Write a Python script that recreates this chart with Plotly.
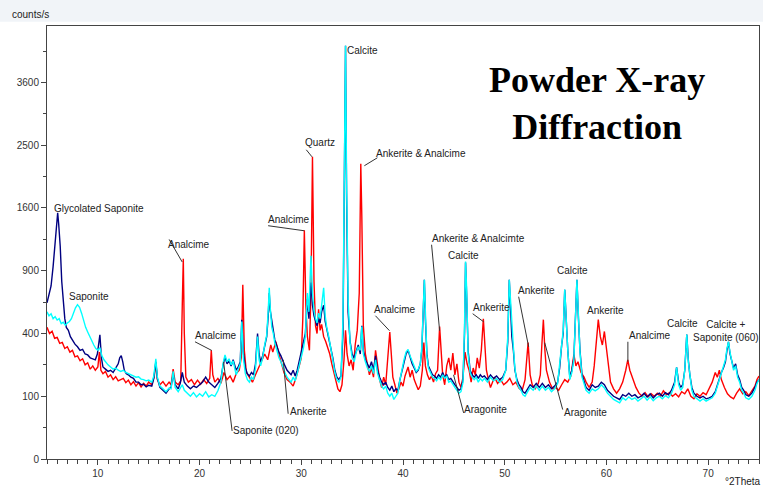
import numpy as np
import plotly.graph_objects as go

# ---------------- data (degrees 2-theta, counts/s) ----------------
red_points = [
    (5.0,440),(5.25,400),(5.5,415),(5.75,370),(6.0,375),(6.25,340),(6.5,345),(6.75,310),(7.0,320),(7.25,290),
    (7.5,300),(7.75,265),(8.0,270),(8.25,245),(8.5,255),(8.75,225),(9.0,235),(9.25,205),(9.5,220),(9.75,200),
    (10.0,215),(10.15,290),(10.3,200),(10.5,185),(10.75,195),(11.0,170),(11.25,180),(11.5,160),(11.75,172),(12.0,155),
    (12.5,165),(12.75,148),(13.0,158),(13.25,140),(13.5,152),(13.75,135),(14.0,148),(14.25,132),(14.5,145),(14.75,135),
    (15.0,150),(15.3,140),(15.55,175),(15.7,235),(15.85,160),(16.1,140),(16.4,152),(16.7,135),(17.0,150),(17.2,140),
    (17.4,205),(17.6,150),(17.9,140),(18.15,155),(18.3,600),(18.4,1017),(18.5,400),(18.65,170),(18.9,150),(19.2,160),
    (19.5,140),(19.8,158),(20.1,142),(20.4,160),(20.7,145),(21.0,165),(21.15,300),(21.3,180),(21.5,150),(21.8,165),
    (22.1,145),(22.4,190),(22.7,160),(23.0,175),(23.3,150),(23.6,185),(23.9,200),(24.1,260),(24.25,771),(24.4,300),
    (24.6,190),(24.9,170),(25.2,150),(25.5,180),(25.8,210),(26.1,240),(26.4,280),(26.7,250),(27.0,330),(27.2,290),
    (27.5,350),(27.8,280),(28.0,240),(28.3,190),(28.6,160),(28.9,150),(29.2,135),(29.5,170),(29.8,220),(30.0,260),
    (30.15,500),(30.3,1330),(30.45,600),(30.6,380),(30.8,300),(30.95,700),(31.1,2320),(31.25,800),(31.4,450),(31.55,400),
    (31.7,570),(31.85,420),(32.0,460),(32.2,380),(32.4,350),(32.6,310),(32.8,280),(33.0,230),(33.2,190),(33.4,150),
    (33.6,125),(33.8,115),(34.0,140),(34.2,250),(34.35,420),(34.5,280),(34.7,220),(34.9,250),(35.1,200),(35.3,330),
    (35.5,420),(35.7,700),(35.85,2212),(35.95,1500),(36.1,450),(36.3,280),(36.5,230),(36.7,180),(36.9,210),(37.1,170),
    (37.3,300),(37.5,220),(37.7,160),(37.9,130),(38.1,170),(38.3,140),(38.5,250),(38.7,410),(38.85,280),(39.0,170),
    (39.2,140),(39.4,110),(39.6,125),(39.8,150),(40.0,135),(40.2,175),(40.5,215),(40.7,170),(40.9,200),(41.1,160),
    (41.3,140),(41.5,122),(41.7,135),(41.9,200),(42.05,344),(42.2,220),(42.4,180),(42.6,160),(42.8,175),(43.0,150),
    (43.2,185),(43.4,200),(43.6,445),(43.75,260),(43.9,180),(44.1,140),(44.3,220),(44.5,260),(44.7,200),(44.9,285),
    (45.1,180),(45.3,230),(45.5,150),(45.7,130),(45.9,170),(46.1,290),(46.3,230),(46.5,200),(46.7,150),(46.9,210),
    (47.1,180),(47.3,260),(47.5,210),(47.7,300),(47.9,500),(48.05,330),(48.2,200),(48.4,160),(48.6,130),(48.8,150),
    (49.0,170),(49.3,145),(49.6,160),(49.9,140),(50.2,150),(50.5,165),(50.8,140),(51.1,150),(51.4,128),(51.7,118),
    (52.0,160),(52.3,344),(52.5,180),(52.7,140),(53.0,125),(53.3,145),(53.5,180),(53.65,330),(53.8,493),(53.95,300),
    (54.1,200),(54.4,150),(54.7,125),(55.0,130),(55.3,120),(55.6,140),(55.9,160),(56.2,150),(56.5,175),(56.8,277),
    (57.0,220),(57.2,240),(57.5,190),(57.8,170),(58.0,150),(58.3,130),(58.6,150),(58.8,220),(59.0,350),(59.2,493),
    (59.4,380),(59.6,330),(59.8,413),(60.0,300),(60.2,200),(60.4,150),(60.7,125),(61.0,110),(61.3,125),(61.6,150),
    (61.9,200),(62.1,250),(62.3,200),(62.6,160),(62.9,130),(63.2,110),(63.5,100),(63.8,112),(64.1,98),(64.4,108),
    (64.7,100),(65.0,110),(65.3,100),(65.6,118),(65.9,105),(66.2,112),(66.5,100),(66.8,108),(67.1,98),(67.4,115),
    (67.7,108),(68.0,125),(68.3,100),(68.6,92),(68.9,108),(69.2,100),(69.5,112),(69.8,105),(70.1,125),(70.4,150),
    (70.7,190),(70.9,170),(71.1,200),(71.3,160),(71.6,130),(71.9,108),(72.2,98),(72.5,92),(72.8,110),(73.1,125),
    (73.4,108),(73.7,115),(74.0,102),(74.3,118),(74.6,135),(74.8,160),(75.0,175),
]

navy_points = [
    (5.0,620),(5.2,680),(5.4,760),(5.6,940),(5.8,1200),(5.95,1450),(6.05,1540),(6.15,1400),(6.3,1150),(6.45,800),
    (6.6,600),(6.75,500),(6.9,440),(7.1,420),(7.3,380),(7.5,360),(7.75,335),(8.0,320),(8.25,300),(8.5,305),
    (8.75,280),(9.0,275),(9.25,260),(9.5,255),(9.75,250),(9.95,280),(10.1,330),(10.2,392),(10.35,260),(10.5,215),
    (10.75,205),(11.0,195),(11.25,200),(11.5,190),(11.75,210),(12.0,230),(12.15,260),(12.3,271),(12.45,240),(12.6,200),
    (12.8,185),(13.0,180),(13.25,170),(13.5,165),(13.75,150),(14.0,150),(14.25,140),(14.5,142),(14.75,132),(15.0,138),
    (15.3,135),(15.5,165),(15.7,240),(15.85,165),(16.1,130),(16.4,120),(16.7,110),(17.0,125),(17.2,130),(17.4,185),
    (17.6,140),(17.9,125),(18.1,145),(18.3,190),(18.5,150),(18.8,135),(19.1,125),(19.4,135),(19.7,130),(20.0,140),
    (20.3,150),(20.6,170),(20.9,150),(21.2,140),(21.5,130),(21.8,145),(22.1,165),(22.3,220),(22.5,265),(22.7,230),
    (22.9,245),(23.1,220),(23.3,250),(23.6,200),(23.8,215),(24.0,240),(24.15,493),(24.3,290),(24.5,210),(24.7,185),
    (24.9,175),(25.1,190),(25.3,180),(25.5,230),(25.7,400),(25.85,280),(26.0,240),(26.2,270),(26.4,320),(26.6,380),
    (26.75,520),(26.85,700),(26.95,560),(27.1,470),(27.25,420),(27.4,360),(27.6,320),(27.8,290),(28.0,270),(28.2,240),
    (28.4,220),(28.6,200),(28.8,190),(29.0,180),(29.2,200),(29.4,175),(29.6,200),(29.8,240),(30.0,290),(30.2,330),
    (30.4,400),(30.6,650),(30.75,500),(30.95,790),(31.1,600),(31.25,520),(31.4,480),(31.55,450),(31.7,500),(31.85,470),
    (32.0,550),(32.2,600),(32.35,480),(32.5,430),(32.7,380),(32.9,330),(33.1,260),(33.3,200),(33.5,170),(33.7,160),
    (33.9,175),(34.1,400),(34.25,1800),(34.35,4335),(34.45,1800),(34.6,550),(34.8,350),(35.0,280),(35.2,260),(35.4,300),
    (35.6,330),(35.8,280),(35.95,450),(36.1,300),(36.3,250),(36.5,230),(36.7,210),(36.9,240),(37.1,200),(37.3,270),
    (37.5,200),(37.7,170),(37.9,150),(38.1,140),(38.3,150),(38.5,130),(38.7,120),(38.9,135),(39.1,115),(39.3,125),
    (39.5,120),(39.7,160),(39.9,200),(40.1,240),(40.3,280),(40.5,300),(40.7,260),(40.9,230),(41.1,210),(41.3,190),
    (41.5,200),(41.7,230),(41.85,300),(42.0,600),(42.1,815),(42.2,500),(42.35,280),(42.5,220),(42.7,200),(42.9,180),
    (43.1,175),(43.3,165),(43.5,180),(43.7,170),(43.9,190),(44.1,170),(44.3,180),(44.5,160),(44.7,165),(44.9,150),
    (45.1,140),(45.3,130),(45.5,120),(45.7,125),(45.9,160),(46.05,400),(46.15,980),(46.25,700),(46.4,300),(46.6,200),
    (46.8,180),(47.0,170),(47.2,180),(47.4,165),(47.6,180),(47.8,170),(48.0,175),(48.3,160),(48.6,180),(48.9,165),
    (49.2,175),(49.5,160),(49.8,170),(50.1,200),(50.3,350),(50.45,815),(50.55,600),(50.7,380),(50.85,300),(51.0,200),
    (51.2,160),(51.4,140),(51.6,130),(51.8,115),(52.0,110),(52.2,120),(52.5,140),(52.8,130),(53.1,145),(53.4,130),
    (53.7,145),(54.0,130),(54.3,140),(54.6,125),(54.9,135),(55.2,150),(55.4,210),(55.6,330),(55.75,400),(55.9,728),
    (56.05,450),(56.2,300),(56.4,170),(56.6,200),(56.8,260),(56.95,450),(57.1,816),(57.25,500),(57.4,300),(57.6,180),
    (57.8,150),(58.0,130),(58.3,120),(58.6,140),(58.9,130),(59.2,135),(59.5,150),(59.8,140),(60.1,120),(60.4,110),
    (60.7,100),(61.0,95),(61.3,90),(61.6,105),(61.9,100),(62.2,110),(62.5,100),(62.8,105),(63.1,95),(63.4,100),
    (63.7,110),(64.0,98),(64.3,108),(64.6,95),(64.9,105),(65.2,110),(65.5,100),(65.8,112),(66.1,105),(66.4,120),
    (66.7,150),(66.9,213),(67.1,150),(67.3,130),(67.5,140),(67.7,200),(67.9,393),(68.05,250),(68.2,180),(68.4,130),
    (68.6,110),(68.9,100),(69.2,95),(69.5,100),(69.8,92),(70.1,95),(70.4,100),(70.7,115),(70.9,140),(71.1,160),
    (71.3,190),(71.5,210),(71.7,240),(71.85,300),(72.0,349),(72.15,280),(72.3,250),(72.5,210),(72.7,230),(72.9,180),
    (73.1,160),(73.3,130),(73.5,120),(73.7,105),(74.0,100),(74.3,110),(74.6,130),(74.8,150),(75.0,160),
]

cyan_points = [
    (5.0,550),(5.2,520),(5.4,535),(5.6,500),(5.8,515),(6.0,490),(6.2,500),(6.4,465),(6.6,475),(6.8,455),
    (7.0,470),(7.2,480),(7.4,500),(7.6,540),(7.8,580),(8.0,605),(8.2,585),(8.4,540),(8.6,480),(8.8,440),
    (9.0,410),(9.2,380),(9.4,350),(9.6,330),(9.8,310),(10.0,300),(10.2,315),(10.4,270),(10.6,250),(10.8,235),
    (11.0,225),(11.25,215),(11.5,205),(11.75,210),(12.0,200),(12.25,195),(12.5,200),(12.75,190),(13.0,185),(13.25,180),
    (13.5,178),(13.75,170),(14.0,172),(14.25,162),(14.5,160),(14.75,155),(15.0,158),(15.3,150),(15.5,175),(15.7,255),
    (15.85,170),(16.1,135),(16.4,125),(16.7,115),(17.0,128),(17.2,125),(17.4,195),(17.6,130),(17.9,115),(18.1,125),
    (18.3,140),(18.5,120),(18.8,110),(19.1,100),(19.4,112),(19.7,98),(20.0,108),(20.3,100),(20.6,115),(20.9,98),
    (21.2,105),(21.5,100),(21.8,118),(22.1,150),(22.3,230),(22.5,275),(22.7,240),(22.9,255),(23.1,225),(23.3,245),
    (23.6,180),(23.8,200),(24.0,230),(24.15,480),(24.3,260),(24.5,185),(24.7,160),(24.9,150),(25.1,170),(25.3,160),
    (25.5,210),(25.7,380),(25.85,250),(26.0,220),(26.2,260),(26.4,330),(26.6,390),(26.75,560),(26.85,745),(26.95,580),
    (27.1,440),(27.25,400),(27.4,340),(27.6,300),(27.8,260),(28.0,240),(28.2,210),(28.4,190),(28.6,170),(28.8,160),
    (29.0,150),(29.2,170),(29.4,155),(29.6,185),(29.8,220),(30.0,260),(30.2,310),(30.4,380),(30.6,700),(30.75,550),
    (30.95,1050),(31.1,700),(31.25,560),(31.4,500),(31.55,470),(31.7,540),(31.85,500),(32.0,600),(32.2,745),(32.35,520),
    (32.5,440),(32.7,380),(32.9,320),(33.1,250),(33.3,190),(33.5,160),(33.7,150),(33.9,170),(34.1,500),(34.25,2200),
    (34.35,4335),(34.45,2000),(34.6,650),(34.8,340),(35.0,260),(35.2,240),(35.4,290),(35.6,320),(35.8,300),(35.95,445),
    (36.1,280),(36.3,240),(36.5,210),(36.7,195),(36.9,220),(37.1,185),(37.3,250),(37.5,185),(37.7,160),(37.9,135),
    (38.1,125),(38.3,135),(38.5,110),(38.7,100),(38.9,110),(39.1,90),(39.3,100),(39.5,110),(39.7,160),(39.9,210),
    (40.1,250),(40.3,290),(40.5,305),(40.7,270),(40.9,240),(41.1,215),(41.3,195),(41.5,205),(41.7,230),(41.85,320),
    (42.0,650),(42.1,815),(42.2,550),(42.35,270),(42.5,210),(42.7,190),(42.9,170),(43.1,165),(43.3,155),(43.5,170),
    (43.7,160),(43.9,180),(44.1,165),(44.3,175),(44.5,150),(44.7,155),(44.9,140),(45.1,130),(45.3,120),(45.5,110),
    (45.7,115),(45.9,150),(46.05,450),(46.15,990),(46.25,750),(46.4,280),(46.6,190),(46.8,170),(47.0,160),(47.2,170),
    (47.4,150),(47.6,165),(47.8,155),(48.0,165),(48.3,150),(48.6,170),(48.9,155),(49.2,165),(49.5,150),(49.8,160),
    (50.1,200),(50.3,380),(50.45,815),(50.55,650),(50.7,420),(50.85,320),(51.0,210),(51.2,150),(51.4,130),(51.6,120),
    (51.8,105),(52.0,100),(52.2,112),(52.5,130),(52.8,120),(53.1,135),(53.4,120),(53.7,135),(54.0,120),(54.3,130),
    (54.6,115),(54.9,125),(55.2,145),(55.4,220),(55.6,340),(55.75,420),(55.9,730),(56.05,460),(56.2,300),(56.4,160),
    (56.6,190),(56.8,250),(56.95,480),(57.1,816),(57.25,520),(57.4,290),(57.6,170),(57.8,140),(58.0,120),(58.3,110),
    (58.6,125),(58.9,118),(59.2,125),(59.5,140),(59.8,128),(60.1,110),(60.4,100),(60.7,90),(61.0,85),(61.3,80),
    (61.6,95),(61.9,88),(62.2,98),(62.5,90),(62.8,95),(63.1,85),(63.4,92),(63.7,100),(64.0,88),(64.3,98),
    (64.6,86),(64.9,95),(65.2,100),(65.5,92),(65.8,102),(66.1,95),(66.4,110),(66.7,140),(66.9,213),(67.1,140),
    (67.3,120),(67.5,130),(67.7,200),(67.9,393),(68.05,240),(68.2,170),(68.4,120),(68.6,100),(68.9,92),(69.2,85),
    (69.5,92),(69.8,85),(70.1,90),(70.4,95),(70.7,110),(70.9,135),(71.1,160),(71.3,185),(71.5,220),(71.7,250),
    (71.85,310),(72.0,349),(72.15,290),(72.3,240),(72.5,200),(72.7,220),(72.9,170),(73.1,150),(73.3,120),(73.5,110),
    (73.7,95),(74.0,90),(74.3,100),(74.6,120),(74.8,145),(75.0,160),
]

y_tick_counts = [0, 100, 400, 900, 1600, 2500, 3600]
y_minor_counts = [25, 225, 625, 1225, 2025, 3025, 4225]
x_tick_values = [10, 20, 30, 40, 50, 60, 70]

# phase labels: text, 2-theta of left edge, counts of vertical centre
label_text = ["Glycolated Saponite", "Saponite", "Analcime", "Analcime", "Saponite (020)", "Ankerite",
              "Analcime", "Quartz", "Calcite", "Ankerite &amp; Analcime", "Analcime", "Ankerite &amp; Analcimte",
              "Calcite", "Ankerite", "Aragonite", "Ankerite", "Aragonite", "Calcite", "Ankerite", "Analcime",
              "Calcite"]
label_theta = [5.66, 7.14, 16.89, 19.55, 23.29, 28.91, 26.74, 30.39, 34.49, 37.38, 37.19, 42.81,
               44.39, 46.85, 45.96, 51.27, 55.80, 55.11, 58.07, 62.21, 65.96]
label_counts = [1590, 669, 1166, 387, 20.3, 56.8, 1453, 2539, 4232, 2366, 566, 1231,
                1049, 581, 61.8, 719, 54.5, 900, 558, 387, 466]

# leader lines: from (theta0, counts0) to (theta1, counts1)
leader_theta0 = [17.01, 19.55, 22.36, 28.22, 26.74, 30.49, 37.48, 37.29, 42.81, 46.85, 45.96, 51.37, 55.70, 62.11]
leader_counts0 = [1224, 349, 240, 250, 1382, 2428, 2304, 521, 1166, 536, 54, 669, 62, 349]
leader_theta1 = [18.29, 21.20, 23.20, 28.71, 30.29, 31.05, 36.20, 38.67, 43.60, 47.93, 44.97, 52.35, 53.93, 62.11]
leader_counts1 = [986, 299, 20, 52, 1323, 2319, 2184, 418, 418, 478, 180, 320, 344, 240]

series = [("red", red_points, "#FF0000"), ("navy", navy_points, "#000080"), ("cyan", cyan_points, "#00FFFF")]

fig = go.Figure()
for name, pts, col in series:
    th = [p[0] for p in pts]
    ct = np.array([p[1] for p in pts], dtype=float)
    fig.add_trace(go.Scatter(x=th, y=np.sqrt(ct), mode="lines", name=name,
                             line=dict(color=col, width=1.4), hoverinfo="skip"))

FONT = "Liberation Sans, Arial, sans-serif"
annotations = []
for t, th, c in zip(label_text, label_theta, label_counts):
    annotations.append(dict(x=th, y=float(np.sqrt(c)), xref="x", yref="y", text=t, showarrow=False,
                            xanchor="left", yanchor="middle", font=dict(family=FONT, size=10, color="#222"),
                            xshift=-2))
annotations.append(dict(x=71.76, y=float(np.sqrt(418)), xref="x", yref="y", text="Calcite +<br>Saponite (060)",
                        showarrow=False, xanchor="center", yanchor="middle",
                        font=dict(family=FONT, size=10, color="#222")))
annotations.append(dict(x=-0.0524, y=1.026, xref="paper", yref="paper", text="counts/s", showarrow=False,
                        xanchor="left", yanchor="middle", font=dict(family=FONT, size=10, color="#222")))
annotations.append(dict(x=1.0055, y=-0.0524, xref="paper", yref="paper", text="°2Theta", showarrow=False,
                        xanchor="right", yanchor="middle", font=dict(family=FONT, size=10, color="#222")))
annotations.append(dict(x=0.7727, y=0.822, xref="paper", yref="paper", text="<b>Powder X-ray<br>Diffraction</b>",
                        showarrow=False, xanchor="center", yanchor="middle",
                        font=dict(family="Liberation Serif, Times New Roman, serif", size=36, color="#000")))

shapes = [dict(type="rect", xref="paper", yref="paper", x0=-0.0665, x1=1.006, y0=1.01, y1=1.061,
               fillcolor="#f1f4f8", line=dict(width=0), layer="below")]
for a, b, c, d in zip(leader_theta0, leader_counts0, leader_theta1, leader_counts1):
    shapes.append(dict(type="line", xref="x", yref="y", x0=a, y0=float(np.sqrt(b)), x1=c, y1=float(np.sqrt(d)),
                       line=dict(color="#333", width=1)))

fig.update_layout(
    width=763, height=488,
    margin=dict(l=47, r=4, t=26, b=29),
    paper_bgcolor="white", plot_bgcolor="white",
    showlegend=False,
    annotations=annotations,
    shapes=shapes,
    xaxis=dict(range=[5, 75], tickvals=x_tick_values, ticks="outside", ticklen=5, tickcolor="#444",
               showgrid=False, zeroline=False, showline=True, linecolor="#444", linewidth=1, mirror=True,
               tickfont=dict(family=FONT, size=10, color="#333"),
               minor=dict(dtick=1, tick0=5, ticks="outside", ticklen=4, tickcolor="#444", showgrid=False)),
    yaxis=dict(range=[0, 69], tickvals=[float(np.sqrt(v)) for v in y_tick_counts],
               ticktext=[str(v) for v in y_tick_counts], ticks="outside", ticklen=5, tickcolor="#444",
               showgrid=False, zeroline=False, showline=True, linecolor="#444", linewidth=1, mirror=True,
               tickfont=dict(family=FONT, size=10, color="#333"),
               minor=dict(tickvals=[float(np.sqrt(v)) for v in y_minor_counts], ticks="outside", ticklen=3,
                          tickcolor="#444", showgrid=False)),
)

fig.write_html("out.html")
